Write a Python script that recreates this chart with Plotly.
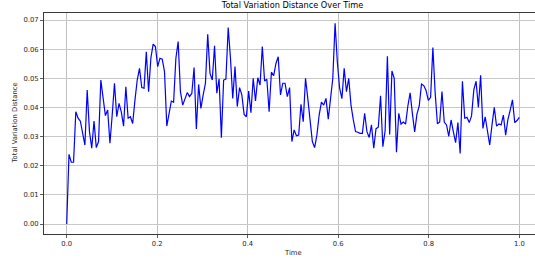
import numpy as np
import plotly.graph_objects as go

# ---- data ----
tvd_values = [
    0.0, 0.0239, 0.0212, 0.0212, 0.0385, 0.0363, 0.0353, 0.0317, 0.0271, 0.0460,
    0.0317, 0.0260, 0.0353, 0.0262, 0.0283, 0.0494, 0.0437, 0.0372, 0.0391, 0.0277,
    0.0374, 0.0483, 0.0368, 0.0414, 0.0385, 0.0336, 0.0471, 0.0363, 0.0368, 0.0345,
    0.0425, 0.0494, 0.0534, 0.0468, 0.0466, 0.0591, 0.0454, 0.0569, 0.0617, 0.0609,
    0.0540, 0.0569, 0.0566, 0.0523, 0.0336, 0.0374, 0.0422, 0.0418, 0.0569, 0.0626,
    0.0454, 0.0408, 0.0434, 0.0451, 0.0437, 0.0448, 0.0537, 0.0326, 0.0479, 0.0397,
    0.0443, 0.0483, 0.0651, 0.0517, 0.0494, 0.0612, 0.0449, 0.0498, 0.0296, 0.0494,
    0.0497, 0.0674, 0.0569, 0.0431, 0.0540, 0.0403, 0.0468, 0.0443, 0.0376, 0.0368,
    0.0456, 0.0382, 0.0500, 0.0422, 0.0502, 0.0477, 0.0609, 0.0491, 0.0497, 0.0385,
    0.0521, 0.0509, 0.0551, 0.0574, 0.0443, 0.0483, 0.0483, 0.0437, 0.0468, 0.0283,
    0.0323, 0.0303, 0.0305, 0.0411, 0.0351, 0.0500, 0.0431, 0.0351, 0.0283, 0.0262,
    0.0305, 0.0374, 0.0418, 0.0408, 0.0431, 0.0360, 0.0431, 0.0500, 0.0689, 0.0555,
    0.0466, 0.0430, 0.0534, 0.0454, 0.0500, 0.0408, 0.0358, 0.0317, 0.0315, 0.0311,
    0.0311, 0.0380, 0.0317, 0.0297, 0.0340, 0.0260, 0.0327, 0.0332, 0.0440, 0.0265,
    0.0320, 0.0576, 0.0307, 0.0525, 0.0500, 0.0246, 0.0380, 0.0343, 0.0350, 0.0343,
    0.0405, 0.0450, 0.0378, 0.0316, 0.0377, 0.0405, 0.0480, 0.0475, 0.0458, 0.0424,
    0.0435, 0.0606, 0.0450, 0.0344, 0.0350, 0.0455, 0.0350, 0.0340, 0.0301, 0.0357,
    0.0317, 0.0279, 0.0348, 0.0242, 0.0490, 0.0363, 0.0366, 0.0348, 0.0371, 0.0460,
    0.0490, 0.0400, 0.0510, 0.0328, 0.0368, 0.0311, 0.0271, 0.0340, 0.0400, 0.0336,
    0.0343, 0.0340, 0.0374, 0.0305, 0.0359, 0.0391, 0.0426, 0.0348, 0.0355, 0.0366,
]
time_values = np.linspace(0.0, 1.0, len(tvd_values))

x_tick_values = [0.0, 0.2, 0.4, 0.6, 0.8, 1.0]
x_tick_labels = ["0.0", "0.2", "0.4", "0.6", "0.8", "1.0"]
y_tick_values = [0.00, 0.01, 0.02, 0.03, 0.04, 0.05, 0.06, 0.07]
y_tick_labels = ["0.00", "0.01", "0.02", "0.03", "0.04", "0.05", "0.06", "0.07"]

title_text = "Total Variation Distance Over Time"
x_label = "Time"
y_label = "Total Variation Distance"

# ---- figure ----
W, H = 535, 262
L, R, T, B = 44, 0, 13, 28
FONT = "DejaVu Sans"
TXT = "#262626"

fig = go.Figure()
fig.add_trace(go.Scatter(
    x=time_values, y=tvd_values, mode="lines",
    line=dict(color="#0000ff", width=1.2),
    hoverinfo="skip", showlegend=False,
))

fig.update_layout(
    width=W, height=H,
    margin=dict(l=L, r=R, t=T, b=B, pad=0, autoexpand=False),
    paper_bgcolor="white", plot_bgcolor="white",
    font=dict(family=FONT, size=6.8, color=TXT),
    title=dict(text=title_text, font=dict(family=FONT, size=8.2, color="#000000"),
               x=292.5 / W, xref="container", xanchor="center",
               y=1 - 5.5 / H, yref="container", yanchor="middle", automargin=False),
    showlegend=False,
    hovermode=False,
)

fig.update_xaxes(
    range=[-0.0502, 1.0347], automargin=False,
    tickmode="array", tickvals=x_tick_values, ticktext=x_tick_labels,
    ticks="outside", ticklen=3, tickwidth=0.8, tickcolor="#333333",
    showgrid=True, gridcolor="#c0c0c0", gridwidth=1,
    zeroline=False,
    showline=True, linecolor="#3a3a3a", linewidth=1, mirror=True,
    tickfont=dict(family=FONT, size=6.8, color=TXT),
)
fig.update_yaxes(
    range=[-0.00343, 0.07241], automargin=False,
    tickmode="array", tickvals=y_tick_values, ticktext=y_tick_labels,
    ticks="outside", ticklen=3, tickwidth=0.8, tickcolor="#333333",
    showgrid=True, gridcolor="#c8c8c8", gridwidth=1,
    zeroline=False,
    showline=True, linecolor="#3a3a3a", linewidth=1, mirror=False,
    tickfont=dict(family=FONT, size=6.8, color=TXT),
)

plot_w = W - L - R
plot_h = H - T - B
fig.add_annotation(text=x_label, xref="paper", yref="paper",
                   x=(292.5 - L) / plot_w, y=(H - B - 253.3) / plot_h,
                   xanchor="center", yanchor="middle", showarrow=False,
                   font=dict(family=FONT, size=6.8, color=TXT))
fig.add_annotation(text=y_label, xref="paper", yref="paper",
                   x=(15 - L) / plot_w, y=(H - B - 123.4) / plot_h,
                   xanchor="center", yanchor="middle", textangle=-90, showarrow=False,
                   font=dict(family=FONT, size=6.8, color=TXT))

fig.write_html("out.html",
               config={"displayModeBar": False, "staticPlot": True},
               post_script="document.body.style.margin='0';document.body.style.overflow='hidden';")
